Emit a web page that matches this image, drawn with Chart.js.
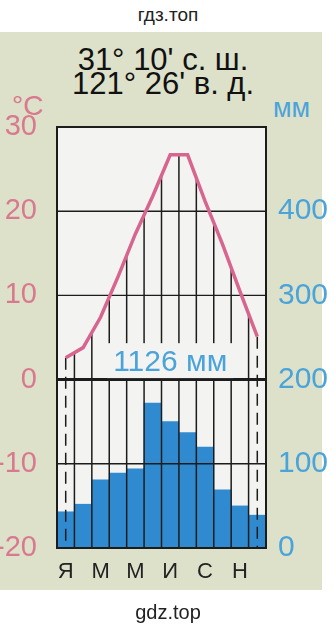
<!DOCTYPE html>
<html>
<head>
<meta charset="utf-8">
<script src="https://cdn.jsdelivr.net/npm/chart.js@4"></script>
<style>
  body { margin: 0; width: 336px; height: 633px; position: relative; background: #fff; overflow: hidden;
         font-family: "Liberation Sans", Arial, sans-serif; }
  #panel { position: absolute; left: 0; top: 32px; width: 322px; height: 558px; background: #dde1c9; }
  .wm { position: absolute; left: 0; width: 336px; text-align: center; color: #222; font-size: 19px; line-height: 20px; }
  #coords { position: absolute; left: 0; top: 48px; width: 326px; text-align: center; font-size: 31px; line-height: 24px; color: #111; }
  .unit { position: absolute; line-height: 1; }
  #c { position: absolute; left: 0; top: 0; }
</style>
</head>
<body>
<div class="wm" style="top:5px">гдз.топ</div>
<div id="panel"></div>
<div id="coords">31° 10' с. ш.<br>121° 26' в. д.</div>
<div class="unit" style="left:12px;top:92px;font-size:28px;color:#d8798f">°C</div>
<div class="unit" style="left:273px;top:95px;font-size:27px;color:#4aa3d9">мм</div>
<canvas id="c" width="336" height="633"></canvas>
<div class="wm" style="top:602px;font-size:20px">gdz.top</div>
<script>
const months = ['Я','Ф','М','А','М','И','И','А','С','О','Н','Д'];
const temperature = [2.6, 3.8, 7.4, 12.2, 17.3, 21.8, 26.7, 26.7, 21.2, 16.1, 10.5, 5.1];
const precipitation = [43, 52, 81, 89, 94, 172, 150, 137, 120, 69, 50, 39];
const tempTicks = [-20, -10, 0, 10, 20, 30];
const precipTicks = [0, 100, 200, 300, 400];
const totalPrecip = 1126;

const pink = '#d8798f';
const blue = '#4aa3d9';

// grid, hatching and the total label go over the bars but under the temperature line
const decor = {
  id: 'decor',
  beforeDraw(chart) {
    const {ctx, chartArea: a} = chart;
    ctx.save();
    ctx.fillStyle = '#f3f3f1';
    ctx.fillRect(a.left, a.top, a.width, a.height);
    ctx.restore();
  },
  afterDatasetDraw(chart, args) {
    if (args.meta.type !== 'bar') return;
    const {ctx, chartArea: a} = chart;
    const x = chart.scales.x, yT = chart.scales.y;
    const pts = chart.getDatasetMeta(1).data;
    ctx.save();
    ctx.strokeStyle = '#1c1c1c';

    tempTicks.forEach(v => {
      if (v === tempTicks[0] || v === tempTicks[tempTicks.length - 1]) return;
      const y = yT.getPixelForValue(v);
      ctx.lineWidth = v === 0 ? 3 : 1.4;
      ctx.beginPath(); ctx.moveTo(a.left, y); ctx.lineTo(a.right, y); ctx.stroke();
    });

    ctx.lineWidth = 1.5;
    for (let i = 1; i < months.length; i++) {
      const xb = (x.getPixelForValue(i - 1) + x.getPixelForValue(i)) / 2;
      const top = (pts[i - 1].y + pts[i].y) / 2;
      ctx.beginPath(); ctx.moveTo(xb, top); ctx.lineTo(xb, a.bottom); ctx.stroke();
    }
    ctx.setLineDash([12, 7]);
    [0, months.length - 1].forEach(i => {
      ctx.beginPath(); ctx.moveTo(pts[i].x, pts[i].y); ctx.lineTo(pts[i].x, a.bottom); ctx.stroke();
    });
    ctx.setLineDash([]);

    ctx.lineWidth = 2;
    ctx.strokeRect(a.left, a.top, a.width, a.height);

    // total precipitation
    const label = totalPrecip + ' мм';
    ctx.font = '30px "Liberation Sans", Arial, sans-serif';
    const w = ctx.measureText(label).width;
    const cx = x.getPixelForValue(6);
    const base = yT.getPixelForValue(1);
    const zero = yT.getPixelForValue(0);
    ctx.fillStyle = '#f3f3f1';
    ctx.fillRect(cx - w / 2 - 6, base - 28, w + 12, zero - 1.5 - (base - 28));
    ctx.fillStyle = blue;
    ctx.textAlign = 'center';
    ctx.textBaseline = 'alphabetic';
    ctx.fillText(label, cx, base);
    ctx.restore();
  }
};

new Chart('c', {
  type: 'bar',
  data: {
    labels: months,
    datasets: [{
      type: 'bar',
      data: precipitation,
      yAxisID: 'y1',
      backgroundColor: '#2f8ad0',
      barPercentage: 1,
      categoryPercentage: 1,
      borderWidth: 0,
      order: 2
    }, {
      type: 'line',
      data: temperature,
      yAxisID: 'y',
      borderColor: '#d8658f',
      borderWidth: 3.5,
      pointRadius: 0,
      tension: 0,
      order: 1
    }]
  },
  options: {
    responsive: false,
    animation: false,
    layout: { padding: { top: 127, bottom: 40, left: 0, right: 0 } },
    plugins: { legend: { display: false }, tooltip: { enabled: false } },
    scales: {
      x: {
        offset: true,
        grid: { display: false },
        border: { display: false },
        afterFit: s => { s.height = 45; },
        ticks: {
          autoSkip: false, maxRotation: 0, padding: 3, color: '#222',
          font: { size: 22, family: '"Liberation Sans", Arial, sans-serif' },
          callback: (v, i) => i % 2 === 0 ? months[i] : ''
        }
      },
      y: {
        position: 'left',
        min: -20, max: 30,
        afterBuildTicks: s => { s.ticks = tempTicks.map(v => ({ value: v })); },
        afterFit: s => { s.width = 57; },
        grid: { display: false },
        border: { display: false },
        ticks: { padding: 12, color: pink, font: { size: 29, family: '"Liberation Sans", Arial, sans-serif' } }
      },
      y1: {
        position: 'right',
        min: 0, max: 500,
        afterBuildTicks: s => { s.ticks = precipTicks.map(v => ({ value: v })); },
        afterFit: s => { s.width = 70; },
        grid: { display: false },
        border: { display: false },
        ticks: { padding: 4, color: blue, font: { size: 30, family: '"Liberation Sans", Arial, sans-serif' } }
      }
    }
  },
  plugins: [decor]
});
</script>
</body>
</html>
